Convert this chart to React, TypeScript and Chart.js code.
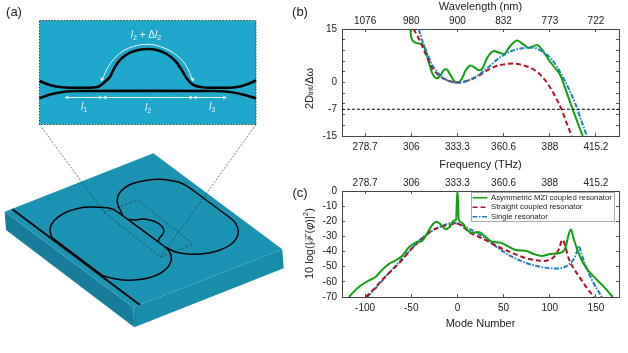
import React, { useEffect, useRef } from "react";
import { Chart, registerables } from "chart.js";

Chart.register(...registerables);

const FONT = '"Liberation Sans", Arial, sans-serif';
const GREEN = "#12a012";
const RED = "#b0102a";
const BLUE = "#1c80b4";
const AXIS = "#444444";

type P = [number, number];

// Panel (b): frequency (THz) vs integrated dispersion
const freqTicks = [278.7, 306, 333.3, 360.6, 388, 415.2];
const wavelengthLabels = ["1076", "980", "900", "832", "773", "722"];
const dintTicks = [-15, -12, -9, -7.5, -6, -3, 0, 3, 6, 9, 12, 15];
const dintLabels: Record<string, string> = { "-15": "-15", "-7.5": "-7", "0": "0", "15": "15" };
const thresholdLine: P[] = [[265, -7.5], [429, -7.5]];
const dintMzi: P[] = [
  [305.5, 15], [305.9, 12.9], [307.4, 11.5], [309.8, 11], [312.7, 10.7], [314.7, 8.7], [316.6, 5.4], [318.6, 2.4],
  [321.1, 1.2], [323.1, 1.9], [325.1, 3.4], [326.8, 3.7], [329, 2.2], [331.7, 0.3], [333.9, 0], [335.7, 0.9],
  [338.2, 3.4], [341.1, 4.8], [343.5, 4.2], [346, 3.4], [348, 3.9], [350.9, 6.9], [354.9, 8.8], [357.8, 8.4],
  [360.8, 8], [364.3, 10.1], [368.6, 11.8], [372.5, 10.6], [375.5, 9.7], [380.4, 10.5], [383.3, 9.2], [387.2, 6.4],
  [391.1, 4], [394.1, 2.1], [397, -1.6], [401.9, -8.1], [407.4, -15],
];
const dintStraight: P[] = [
  [307.4, 15], [310.8, 12], [314.7, 7.8], [318.6, 4], [322.5, 1.9], [327.4, 0.6], [333.3, 0], [339.2, 0.5],
  [345.1, 1.7], [350.9, 3.4], [356.8, 4.7], [362.7, 5.2], [366.6, 5.3], [372.5, 4.8], [377.4, 3.9], [382.3, 2.2],
  [387.2, -0.7], [391.1, -3.9], [395, -7.7], [398, -11.5], [400.9, -15],
];
const dintSingle: P[] = [
  [310.4, 15], [312.7, 11.5], [315.7, 7.8], [319.6, 4], [324.5, 1.5], [329.4, 0.2], [333.9, 0], [339.2, 0.5],
  [345.1, 1.9], [350.9, 4], [357.8, 6.8], [364.7, 8.7], [371.5, 9.6], [377.4, 9.8], [383.3, 8.7], [389.2, 6.4],
  [395, 2.1], [399, -1.6], [402.9, -5.8], [406.8, -11], [409.8, -15],
];

// Panel (c): mode number vs comb power
const modeTicks = [-100, -50, 0, 50, 100, 150];
const powerTicks = [-70, -60, -50, -40, -30, -20, -10, 0];
const topFreqLabels = ["278.7", "306", "333.3", "360.6", "388", "415.2"];
const seriesNames = ["Asymmetric MZI coupled resonator", "Straight coupled resonator", "Single resonator"];
const powerMzi: P[] = [
  [-117.5, -70], [-112, -66.3], [-105, -62.6], [-96, -59.1], [-89, -56.9], [-81.5, -52.1], [-74, -48.1], [-67, -45.9],
  [-60, -42.9], [-52.5, -37.2], [-45.4, -34.1], [-38.2, -32.8], [-32.8, -28], [-27.4, -22.5], [-22.7, -20.3], [-18.4, -21.9],
  [-13, -25.2], [-8.3, -23.6], [-4, -19.7], [-1.4, -18.8], [-0.7, -8], [0, 0], [0.7, -8], [1.4, -18.8], [5, -21],
  [10.5, -25.8], [15.9, -27.6], [23, -27.1], [30.3, -30.2], [37.5, -33.5], [46.5, -34.1], [55.5, -36.7], [64.5, -39.2],
  [73.5, -39.4], [82.5, -41.6], [91.5, -42.9], [100.5, -41.6], [109.5, -41.1], [116.8, -37.8], [120.4, -29], [122.9, -25.4],
  [125.8, -31.3], [131.2, -41.1], [138.4, -49.9], [147.4, -56.4], [158.2, -63], [168.3, -70],
];
const powerStraight: P[] = [
  [-99.5, -70], [-90.5, -64.8], [-81.5, -58.6], [-72.4, -53.2], [-61.6, -46.6], [-50.8, -38.9], [-40, -32.4], [-29.2, -26.9],
  [-18.4, -23.6], [-9.4, -22.5], [-0.4, -21.4], [6.8, -24], [14.1, -27.6], [23, -30.2], [35.7, -34.1], [50.1, -38.5],
  [64.5, -42.2], [78.9, -45.1], [93.3, -46.2], [104.1, -43.7], [109.5, -38.9], [113.9, -32.2], [116.8, -36.3], [120.4, -44.4],
  [125.8, -51], [133, -57.5], [140.2, -64.1], [148.1, -70],
];
const powerSingle: P[] = [
  [-97.7, -70], [-86.8, -63], [-74.2, -54.2], [-61.6, -45.9], [-50.8, -38.9], [-40, -31.9], [-29.2, -26.9], [-18.4, -23.6],
  [-5.8, -21], [3.2, -22.1], [14.1, -25.4], [24.9, -29.1], [39.3, -35.6], [57.3, -42.9], [75.3, -47.7], [93.3, -50.5],
  [107.7, -51.2], [118.6, -49.4], [125.8, -45.1], [129.4, -40.1], [131.5, -36.3], [133.7, -40.1], [138.4, -48.8], [145.6, -58.6],
  [156.4, -70],
];

// Panel (a): schematic outlines, in the picture's own units
const slabTop: P[] = [[4.7, 211.7], [153.3, 153.3], [282.3, 249.3], [133.3, 307.3]];
const slabLeft: P[] = [[4.7, 211.7], [6, 230], [134.3, 327.3], [133.3, 307.3]];
const slabRight: P[] = [[133.3, 307.3], [282.3, 249.3], [283.7, 268.3], [134.3, 327.3]];
const insetBox: P[] = [[39.5, 20.5], [256, 20.5], [256, 124.5], [39.5, 124.5]];
const insetLower: P[] = [[39.5, 98.3], [50, 94.5], [66, 91.5], [80, 91], [210, 91], [226, 91.5], [243, 94.5], [256, 98.3]];
const insetUpperLeft: P[] = [[39.5, 81], [47, 84], [56, 86.5], [70, 87.7], [90, 87.7]];
const insetUpperBend: P[] = [
  [90, 87.7], [98.3, 86.7], [105, 81.7], [110, 76.7], [115, 66.7], [121.7, 58.3], [130, 52.7], [138.3, 50], [147.3, 49],
  [156.7, 50], [166.7, 54], [175, 60.7], [181.7, 70], [186.7, 78.3], [193.3, 85], [205, 87.7],
];
const insetUpperRight: P[] = [[205, 87.7], [230, 87.7], [240, 86.5], [248, 84], [256, 80.5]];
const whiteArc: P[] = [
  [102.3, 79.3], [108.3, 66.7], [116.7, 56], [128.3, 48.3], [146.7, 44.3], [165, 48.3], [178.3, 56.7], [186.7, 66.7], [192.3, 79.3],
];
const spanL1: P[] = [[65.7, 97.5], [101.7, 97.5]];
const spanL2: P[] = [[103.7, 97.5], [192.3, 97.5]];
const spanL3: P[] = [[194, 97.5], [225.7, 97.5]];
const arrowHeads: P[] = [[67, 97.5], [100.5, 97.5], [105, 97.5], [191, 97.5], [195.3, 97.5], [224.4, 97.5], [101.9, 79.3], [192.7, 79.3]];
const arrowAngles = [270, 90, 270, 90, 270, 90, 200, 160];
const busLine: P[] = [[12.3, 209.3], [140, 305]];
const ringLeftFarArc: P[] = [
  [51.7, 237.3], [50, 230], [51.7, 224], [57.3, 217.7], [66, 212.3], [76.7, 208.7], [88.3, 207], [100, 207.3], [110, 208.3], [118.3, 212.3],
];
const ringLeftInner: P[] = [[118.3, 212.3], [163.3, 245.7]];
const ringLeftNearArc: P[] = [
  [163.3, 245.7], [168.3, 250], [171.2, 256], [170.7, 262], [167, 268], [160, 273.5], [150, 277.5], [140, 279.5], [128, 280.3], [116, 279], [103.3, 276],
];
const ringLeftOuter: P[] = [[103.3, 276], [51.7, 237.3]];
const ringRightFarArc: P[] = [
  [122.5, 214.5], [119.3, 208.3], [117.3, 201.7], [118.7, 194.3], [124, 188.3], [133.3, 183.3], [146.7, 180.3], [160, 179.3],
  [173.3, 181], [183.3, 184], [193.3, 190.5],
];
const ringRightOuter: P[] = [[193.3, 190.5], [231.7, 219]];
const ringRightNearArc: P[] = [
  [231.7, 219], [236, 224], [238.3, 231.7], [236, 239], [230, 245], [220, 250], [210, 252.7], [200, 254], [190, 254.3],
  [180, 253], [173.3, 251], [165, 247],
];
const ringBump: P[] = [
  [129.3, 219.3], [135, 220], [141.7, 219], [150, 220], [158.3, 223.3], [163.3, 228.3], [163.3, 233.3], [159.3, 238.3], [158.3, 241],
];
const dashedRect: P[] = [[104, 212.3], [137.7, 200], [193.3, 244], [160.7, 257], [104, 212.3]];
const guideLeft: P[] = [[39.5, 124.5], [104, 212.3]];
const guideRight: P[] = [[256, 124.5], [160.7, 257]];

const xy = (pts: P[]) => pts.map(([x, y]) => ({ x, y }));

const curve = (label: string, pts: P[], color: string, dash?: number[], width = 2) => ({
  label,
  data: xy(pts),
  borderColor: color,
  backgroundColor: color,
  borderWidth: width,
  borderDash: dash ?? [],
  pointRadius: 0,
  cubicInterpolationMode: "monotone" as const,
});

const insideTicks = {
  drawOnChartArea: false,
  drawTicks: true,
  tickLength: -3,
  color: "#555",
  lineWidth: 1,
};
const labelFont = { family: FONT, size: 10 };
const titleFont = { family: FONT, size: 11 };
const fixedSize = (dim: "width" | "height", v: number) => (s: any) => {
  s[dim] = v;
};
const setTicks = (vals: number[]) => (s: any) => {
  s.ticks = vals.map((value) => ({ value }));
};

function cartesian(
  xMin: number, xMax: number, yMin: number, yMax: number,
  xTickVals: number[], yTickVals: number[],
  bottomLabel: (v: number) => string, topLabel: (v: number) => string, leftLabel: (v: number) => string,
  bottomTitle: string, topTitle: string | null, topH: number, botH: number,
) {
  const border = { display: true, color: AXIS, width: 1 };
  return {
    x: {
      type: "linear", position: "bottom", min: xMin, max: xMax, border, grid: insideTicks,
      afterBuildTicks: setTicks(xTickVals), afterFit: fixedSize("height", botH),
      ticks: { font: labelFont, color: "#222", padding: 8, autoSkip: false, maxRotation: 0, callback: (v: any) => bottomLabel(Number(v)) },
      title: { display: true, text: bottomTitle, font: titleFont, color: "#222", padding: { top: 0, bottom: 0 } },
    },
    xTop: {
      type: "linear", position: "top", min: xMin, max: xMax, border, grid: insideTicks,
      afterBuildTicks: setTicks(xTickVals), afterFit: fixedSize("height", topH),
      ticks: { font: labelFont, color: "#222", padding: 4.5, autoSkip: false, maxRotation: 0, callback: (v: any) => topLabel(Number(v)) },
      title: { display: !!topTitle, text: topTitle ?? "", font: titleFont, color: "#222", padding: { top: 0, bottom: 0 } },
    },
    y: {
      type: "linear", position: "left", min: yMin, max: yMax, border, grid: insideTicks,
      afterBuildTicks: setTicks(yTickVals), afterFit: fixedSize("width", 32),
      ticks: { font: labelFont, color: "#222", padding: 8, autoSkip: false, callback: (v: any) => leftLabel(Number(v)) },
    },
    yRight: {
      type: "linear", position: "right", min: yMin, max: yMax, border, grid: insideTicks,
      afterBuildTicks: setTicks(yTickVals), afterFit: fixedSize("width", 0),
      ticks: { display: false },
    },
  };
}

const legendPlugin = {
  id: "boxLegend",
  afterDraw(chart: any) {
    const { ctx } = chart;
    ctx.save();
    ctx.fillStyle = "rgba(255,255,255,0.95)";
    ctx.strokeStyle = "#aaaaaa";
    ctx.lineWidth = 1;
    ctx.fillRect(161.5, 22.5, 143, 29);
    ctx.strokeRect(161.5, 22.5, 143, 29);
    ctx.font = `7.8px ${FONT}`;
    ctx.textBaseline = "middle";
    chart.data.datasets.slice(0, 3).forEach((d: any, i: number) => {
      const y = 27.7 + i * 9.5;
      ctx.beginPath();
      ctx.setLineDash(d.borderDash);
      ctx.strokeStyle = d.borderColor;
      ctx.lineWidth = 1.6;
      ctx.moveTo(162.5, y);
      ctx.lineTo(177.5, y);
      ctx.stroke();
      ctx.setLineDash([]);
      ctx.fillStyle = "#222";
      ctx.fillText(d.label, 181, y);
    });
    ctx.restore();
  },
};

const poly = (pts: P[], color: string) => ({
  data: xy(pts),
  borderWidth: 0,
  borderColor: color,
  backgroundColor: color,
  fill: "shape",
  pointRadius: 0,
});
const stroke = (pts: P[], color: string, width: number, tension = 0, dash: number[] = []) => ({
  data: xy(pts),
  borderColor: color,
  borderWidth: width,
  borderDash: dash,
  tension,
  fill: false,
  pointRadius: 0,
});

const Txt = ({ x, y, size = 11, color = "#222", style, children }: any) => (
  <div
    style={{
      position: "absolute", left: x, top: y, transform: "translate(-50%,-50%)",
      fontFamily: FONT, fontSize: size, color, whiteSpace: "nowrap", lineHeight: 1, ...style,
    }}
  >
    {children}
  </div>
);

const VTxt = ({ left, top, height, children }: any) => (
  <div
    style={{
      position: "absolute", left, top, width: 16, height, writingMode: "vertical-rl", transform: "rotate(180deg)",
      fontFamily: FONT, fontSize: 11, color: "#222", whiteSpace: "nowrap", lineHeight: "16px", textAlign: "center",
    }}
  >
    {children}
  </div>
);

const subStyle: React.CSSProperties = { fontSize: "0.7em", verticalAlign: "-0.25em", lineHeight: 0 };

export default function App() {
  const aRef = useRef<HTMLCanvasElement>(null);
  const bRef = useRef<HTMLCanvasElement>(null);
  const cRef = useRef<HTMLCanvasElement>(null);

  useEffect(() => {
    document.body.style.margin = "0";
    const base = {
      animation: false as const,
      responsive: false,
      plugins: { legend: { display: false }, tooltip: { enabled: false } },
    };
    const white = "#eef8fb";
    const schematic = new Chart(aRef.current!, {
      type: "line",
      data: {
        datasets: [
          {
            ...stroke(arrowHeads, white, 0),
            showLine: false, pointStyle: "triangle", pointRadius: 2.4,
            pointBackgroundColor: white, pointBorderWidth: 0, pointRotation: arrowAngles,
          },
          stroke(insetUpperLeft, "#000", 2.6, 0.35),
          stroke(insetUpperBend, "#000", 2.6, 0.35),
          stroke(insetUpperRight, "#000", 2.6, 0.35),
          stroke(insetLower, "#000", 2.6, 0.35),
          stroke(whiteArc, white, 1, 0.4),
          stroke(spanL1, white, 1),
          stroke(spanL2, white, 1),
          stroke(spanL3, white, 1),
          stroke(insetBox.concat([insetBox[0]]), "#222", 0.8, 0, [1.5, 1.5]),
          stroke(ringLeftFarArc, "#000", 1.5, 0.4),
          stroke(ringLeftInner, "#000", 1.5),
          stroke(ringLeftNearArc, "#000", 1.5, 0.4),
          stroke(ringLeftOuter, "#000", 1.5),
          stroke(ringRightFarArc, "#000", 1.5, 0.4),
          stroke(ringRightOuter, "#000", 1.5),
          stroke(ringRightNearArc, "#000", 1.5, 0.4),
          stroke(ringBump, "#000", 1.5, 0.4),
          stroke(busLine, "#000", 1.8),
          stroke(dashedRect, "#222", 0.6, 0, [2.5, 2]),
          stroke(guideLeft, "#222", 0.6, 0, [2, 1.5]),
          stroke(guideRight, "#222", 0.6, 0, [2, 1.5]),
          poly(insetBox, "#1ea8cb"),
          poly(slabTop, "#1a93b3"),
          poly(slabLeft, "#177d9a"),
          poly(slabRight, "#1a8cab"),
        ] as any,
      },
      options: {
        ...base,
        layout: { padding: 0, autoPadding: false },
        scales: {
          x: { type: "linear", min: 0, max: 310, display: false },
          y: { type: "linear", min: 0, max: 353, reverse: true, display: false },
        },
      } as any,
    });

    const freqAt = (v: number) => freqTicks.indexOf(v);
    const panelB = new Chart(bRef.current!, {
      type: "line",
      data: {
        datasets: [
          curve("threshold", thresholdLine, "#000", [3, 2], 1.2),
          curve(seriesNames[2], dintSingle, BLUE, [5, 1.5, 1.5, 1.5]),
          curve(seriesNames[1], dintStraight, RED, [5, 3]),
          curve(seriesNames[0], dintMzi, GREEN),
        ] as any,
      },
      options: {
        ...base,
        layout: { padding: { right: 9 }, autoPadding: false },
        scales: cartesian(
          265.05, 428.85, -15, 15, freqTicks, dintTicks,
          (v) => String(v), (v) => wavelengthLabels[freqAt(v)] ?? "", (v) => dintLabels[String(v)] ?? "",
          "Frequency (THz)", "Wavelength (nm)", 29, 36,
        ),
      } as any,
    });

    const panelC = new Chart(cRef.current!, {
      type: "line",
      data: {
        datasets: [
          curve(seriesNames[0], powerMzi, GREEN),
          curve(seriesNames[1], powerStraight, RED, [5, 3]),
          curve(seriesNames[2], powerSingle, BLUE, [5, 1.5, 1.5, 1.5]),
        ] as any,
      },
      options: {
        ...base,
        layout: { padding: { right: 9 }, autoPadding: false },
        scales: cartesian(
          -125, 175, -70, 0, modeTicks, powerTicks,
          (v) => String(v), (v) => topFreqLabels[modeTicks.indexOf(v)] ?? "", (v) => String(v),
          "Mode Number", null, 21, 34,
        ),
      } as any,
      plugins: [legendPlugin],
    });

    return () => {
      schematic.destroy();
      panelB.destroy();
      panelC.destroy();
    };
  }, []);

  const lab = (n: string) => (
    <>
      <i>l</i>
      <span style={subStyle}>{n}</span>
    </>
  );

  return (
    <div style={{ position: "fixed", left: 0, top: 0, width: 628, height: 353, background: "#fff", overflow: "hidden" }}>
      <canvas ref={aRef} width={310} height={353} style={{ position: "absolute", left: 0, top: 0 }} />
      <canvas ref={bRef} width={318} height={172} style={{ position: "absolute", left: 310, top: 0 }} />
      <canvas ref={cRef} width={318} height={161} style={{ position: "absolute", left: 310, top: 170 }} />
      <Txt x={14} y={11} size={13}>(a)</Txt>
      <Txt x={300} y={11} size={13}>(b)</Txt>
      <Txt x={300} y={192} size={13}>(c)</Txt>
      <Txt x={146} y={35} size={10} color={"#eef8fb"}>{lab("2")} + Δ{lab("2")}</Txt>
      <Txt x={84} y={107} size={10} color={"#eef8fb"}>{lab("1")}</Txt>
      <Txt x={148} y={108} size={10} color={"#eef8fb"}>{lab("2")}</Txt>
      <Txt x={212} y={107} size={10} color={"#eef8fb"}>{lab("3")}</Txt>
      <VTxt left={301} top={48} height={80}>
        2D<span style={subStyle}>int</span>/Δω
      </VTxt>
      <VTxt left={301} top={194} height={100}>
        10 log(|ℱ(<i>φ</i>)|<span style={{ fontSize: "0.7em", verticalAlign: "0.35em", lineHeight: 0 }}>2</span>)
      </VTxt>
    </div>
  );
}
